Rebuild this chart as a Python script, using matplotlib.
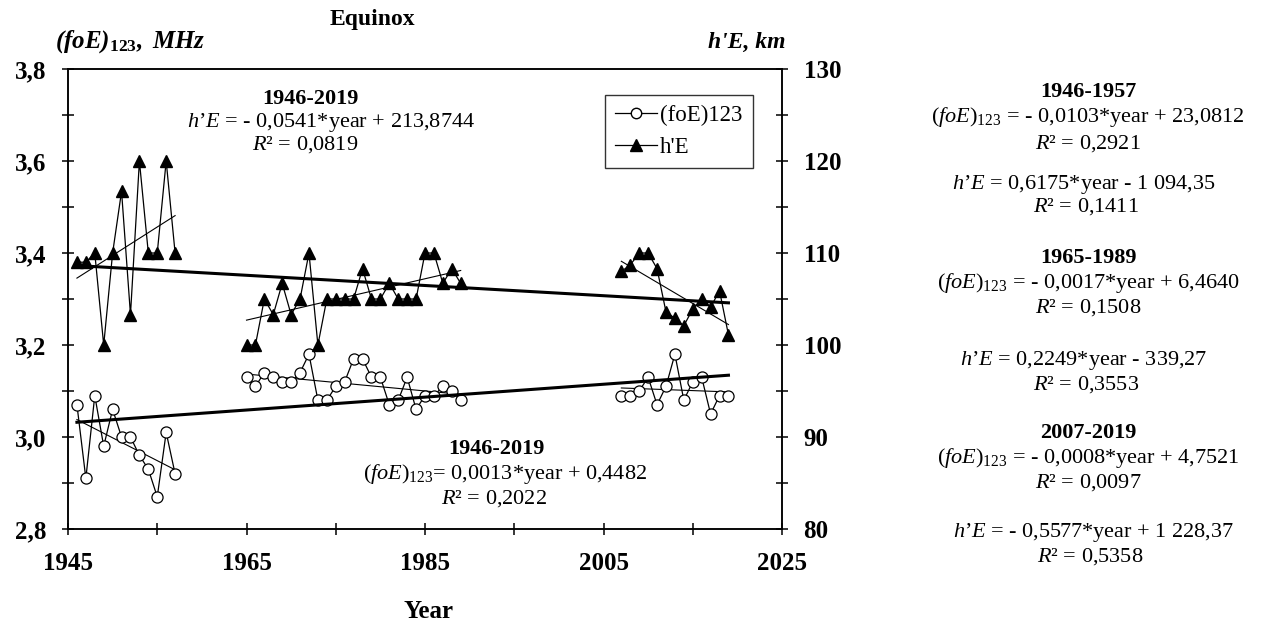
import numpy as np
import matplotlib
matplotlib.use('Agg')
import matplotlib.pyplot as plt
from matplotlib.ticker import FixedLocator, FuncFormatter
from matplotlib.lines import Line2D

plt.rcParams['font.family'] = ['Liberation Serif', 'DejaVu Serif']
plt.rcParams['mathtext.fontset'] = 'custom'
plt.rcParams['mathtext.rm'] = 'Liberation Serif'
plt.rcParams['mathtext.it'] = 'Liberation Serif:italic'
plt.rcParams['mathtext.bf'] = 'Liberation Serif:bold'
try:
    plt.rcParams['mathtext.bfit'] = 'Liberation Serif:bold:italic'
except KeyError:
    pass

# ---------------- data ----------------
years_1 = list(range(1946, 1958))
foe_1 = [3.07, 2.91, 3.09, 2.98, 3.06, 3.00, 3.00, 2.96, 2.93, 2.87, 3.01, 2.92]
he_1 = [109.0, 109.0, 110.0, 100.0, 110.0, 116.7, 103.3, 120.0, 110.0, 110.0, 120.0, 110.0]

years_2 = list(range(1965, 1990))
foe_2 = [3.13, 3.11, 3.14, 3.13, 3.12, 3.12, 3.14, 3.18, 3.08, 3.08, 3.11, 3.12, 3.17,
         3.17, 3.13, 3.13, 3.07, 3.08, 3.13, 3.06, 3.09, 3.09, 3.11, 3.10, 3.08]
he_2 = [100.0, 100.0, 105.0, 103.3, 106.7, 103.3, 105.0, 110.0, 100.0, 105.0, 105.0, 105.0, 105.0,
        108.3, 105.0, 105.0, 106.7, 105.0, 105.0, 105.0, 110.0, 110.0, 106.7, 108.3, 106.7]

years_3 = list(range(2007, 2020))
foe_3 = [3.09, 3.09, 3.10, 3.13, 3.07, 3.11, 3.18, 3.08, 3.12, 3.13, 3.05, 3.09, 3.09]
he_3 = [108.0, 108.7, 110.0, 110.0, 108.3, 103.6, 102.9, 102.1, 103.9, 105.0, 104.1, 105.9, 101.1]

x_major = [1945, 1965, 1985, 2005, 2025]
x_minor = [1955, 1975, 1995, 2015]
left_major = [2.8, 3.0, 3.2, 3.4, 3.6, 3.8]
left_minor = [2.9, 3.1, 3.3, 3.5, 3.7]
right_major = [80, 90, 100, 110, 120, 130]
right_minor = [85, 95, 105, 115, 125]

legend_labels = ['(foE)123', "h'E"]

# ---------------- figure ----------------
W, H = 1263, 630
fig = plt.figure(figsize=(W / 100, H / 100), dpi=100)
L, R, T, B = 68, 782, 69, 529
ax = fig.add_axes([L / W, 1 - B / H, (R - L) / W, (B - T) / H])
ax2 = ax.twinx()

ax.set_xlim(1945, 2025)
ax.set_ylim(2.8, 3.8)
ax2.set_ylim(80, 130)

lw_data = 0.9
periods = [(years_1, foe_1, he_1), (years_2, foe_2, he_2), (years_3, foe_3, he_3)]
for yrs, foe, he in periods:
    ax.plot(yrs, foe, color='black', lw=lw_data, marker='o', ms=8,
            mfc='white', mec='black', mew=0.9, zorder=3)
    ax2.plot(yrs, he, color='black', lw=lw_data, marker='^', ms=8.5,
             mfc='black', mec='black', zorder=3)
    # local trend lines
    yr = np.array(yrs, dtype=float)
    p = np.polyfit(yr, foe, 1)
    ax.plot([yr[0], yr[-1]], np.polyval(p, [yr[0], yr[-1]]), color='black', lw=0.8, zorder=2)
    p = np.polyfit(yr, he, 1)
    ax2.plot([yr[0], yr[-1]], np.polyval(p, [yr[0], yr[-1]]), color='black', lw=0.8, zorder=2)

# global trends
all_years = np.array(years_1 + years_2 + years_3, dtype=float)
all_foe = np.array(foe_1 + foe_2 + foe_3)
all_he = np.array(he_1 + he_2 + he_3)
ends = [all_years.min(), all_years.max()]
p = np.polyfit(all_years, all_foe, 1)
ax.plot(ends, np.polyval(p, ends), color='black', lw=2.2, zorder=4)
p = np.polyfit(all_years, all_he, 1)
ax2.plot(ends, np.polyval(p, ends), color='black', lw=2.2, zorder=4)

# ticks
comma = FuncFormatter(lambda v, pos: f'{v:.1f}'.replace('.', ','))
ax.xaxis.set_major_locator(FixedLocator(x_major))
ax.xaxis.set_minor_locator(FixedLocator(x_minor))
ax.yaxis.set_major_locator(FixedLocator(left_major))
ax.yaxis.set_minor_locator(FixedLocator(left_minor))
ax.yaxis.set_major_formatter(comma)
ax2.yaxis.set_major_locator(FixedLocator(right_major))
ax2.yaxis.set_minor_locator(FixedLocator(right_minor))

tick_fs = 18
for a in (ax, ax2):
    for s in a.spines.values():
        s.set_linewidth(1.1)
ax.tick_params(axis='x', which='both', direction='inout', length=9, width=1.1,
               top=False, labelsize=tick_fs, pad=12)
ax.tick_params(axis='y', which='both', direction='inout', length=9, width=1.1,
               right=False, labelsize=tick_fs, pad=11)
ax2.tick_params(axis='y', which='both', direction='inout', length=9, width=1.1,
                labelsize=tick_fs, pad=11)
for lab in ax.get_xticklabels() + ax.get_yticklabels() + ax2.get_yticklabels():
    lab.set_fontweight('bold')

# legend
handles = [Line2D([], [], color='black', lw=lw_data, marker='o', ms=7.5, mfc='white', mec='black'),
           Line2D([], [], color='black', lw=lw_data, marker='^', ms=8, mfc='black', mec='black')]
leg = ax2.legend(handles, legend_labels, loc='upper left',
                 bbox_to_anchor=(605 / W, 1 - 95 / H), bbox_transform=fig.transFigure,
                 fontsize=16.5, frameon=True, fancybox=False, handlelength=1.8,
                 handletextpad=0.15, borderpad=0.45, labelspacing=0.45, borderaxespad=0)
leg.get_frame().set_edgecolor('black')
leg.get_frame().set_linewidth(1.0)

def ft(x, y, s, **kw):
    fig.text(x / W, 1 - y / H, s, **kw)

# titles and axis labels
ft(372, 20, 'Equinox', ha='center', va='center', fontsize=17, fontweight='bold')
ft(55, 42, r'$\mathbfit{(foE)}_{\mathbf{123}}\mathbfit{,\ MHz}$', ha='left', va='center', fontsize=18)
ft(786, 42, "h'E, km", ha='right', va='center', fontsize=17, fontweight='bold', fontstyle='italic')
ft(428, 612, 'Year', ha='center', va='center', fontsize=18, fontweight='bold')

fs = 16
hE = r'$\mathit{h’E}$'
foE = r'$\mathit{(foE)}_{\mathrm{123}}$'
R2 = r'$\mathit{R}$²'

# in-plot annotations
ft(310, 99, '1946-2019', ha='center', va='center', fontsize=fs, fontweight='bold')
ft(331, 123, hE + ' = - 0,0541*year + 213,8744', ha='center', va='center', fontsize=fs)
ft(305, 145, R2 + ' = 0,0819', ha='center', va='center', fontsize=fs)

ft(496, 449, '1946-2019', ha='center', va='center', fontsize=fs, fontweight='bold')
ft(505, 474, foE + '= 0,0013*year + 0,4482', ha='center', va='center', fontsize=fs)
ft(494, 499, R2 + ' = 0,2022', ha='center', va='center', fontsize=fs)

# right-hand block
cx = 1088
ft(cx, 92, '1946-1957', ha='center', va='center', fontsize=fs, fontweight='bold')
ft(cx, 117, foE + ' = - 0,0103*year + 23,0812', ha='center', va='center', fontsize=fs)
ft(cx, 144, R2 + ' = 0,2921', ha='center', va='center', fontsize=fs)
ft(cx - 4, 184, hE + ' = 0,6175*year - 1 094,35', ha='center', va='center', fontsize=fs)
ft(cx - 2, 207, R2 + ' = 0,1411', ha='center', va='center', fontsize=fs)

ft(cx, 258, '1965-1989', ha='center', va='center', fontsize=fs, fontweight='bold')
ft(cx, 283, foE + ' = - 0,0017*year + 6,4640', ha='center', va='center', fontsize=fs)
ft(cx, 308, R2 + ' = 0,1508', ha='center', va='center', fontsize=fs)
ft(cx - 4, 360, hE + ' = 0,2249*year - 339,27', ha='center', va='center', fontsize=fs)
ft(cx - 2, 385, R2 + ' = 0,3553', ha='center', va='center', fontsize=fs)

ft(cx, 433, '2007-2019', ha='center', va='center', fontsize=fs, fontweight='bold')
ft(cx, 458, foE + ' = - 0,0008*year + 4,7521', ha='center', va='center', fontsize=fs)
ft(cx, 483, R2 + ' = 0,0097', ha='center', va='center', fontsize=fs)
ft(cx + 5, 532, hE + ' = - 0,5577*year + 1 228,37', ha='center', va='center', fontsize=fs)
ft(cx + 2, 557, R2 + ' = 0,5358', ha='center', va='center', fontsize=fs)

fig.savefig('out.png', dpi=100)
